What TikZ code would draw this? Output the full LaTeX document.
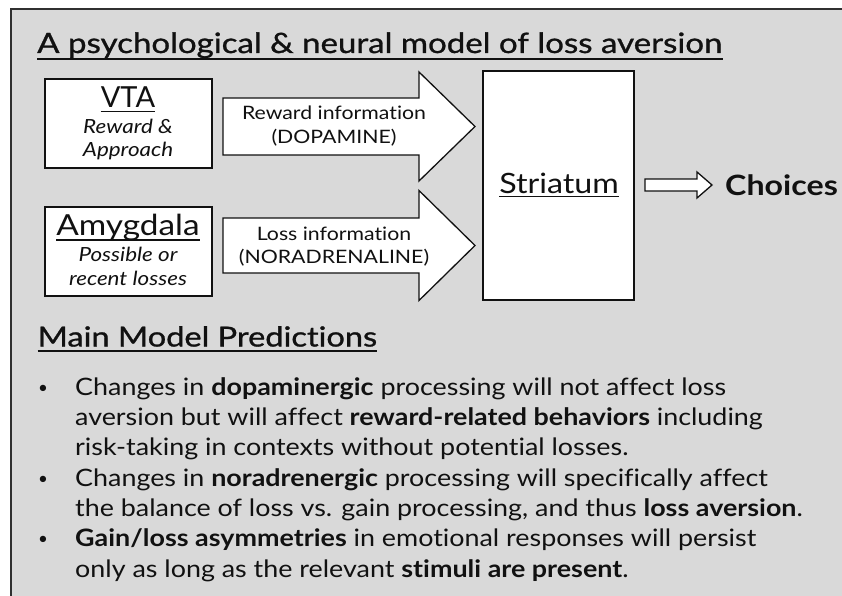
\documentclass[tikz,border=0pt]{standalone}
\usepackage{fontspec}
\setmainfont{Lato}[FakeStretch=1.15, Ligatures=CommonOff]
\newfontfamily\bodyfam{Lato}[FakeStretch=1.12, Ligatures=CommonOff]
\newfontfamily\headfam{Lato}[FakeStretch=1.18, FakeBold=1, Ligatures=CommonOff]
\newfontfamily\plainfam{Lato}[Ligatures=CommonOff]
\usetikzlibrary{calc}
\definecolor{bggray}{HTML}{D9D9D9}
\definecolor{framegray}{HTML}{303030}
\definecolor{inkblack}{HTML}{111111}
\newcommand\blockarr[6]{%
  \draw[arrowbox] (#1,#4-#5) -- (#2,#4-#5) -- (#2,#4-#6) -- (#3,#4) -- (#2,#4+#6) -- (#2,#4+#5) -- (#1,#4+#5) -- cycle;}
\tikzset{
  boxstyle/.style={draw=inkblack, fill=white, line width=1.3pt, inner sep=0pt},
  arrowbox/.style={draw=inkblack, fill=white, line width=1.3pt, line join=miter},
  txt/.style={inner sep=0pt, text=inkblack},
  uline/.style={line width=1.3pt, draw=inkblack},
  bodyfont/.style={font=\bodyfam\fontsize{24}{30}\selectfont},
  itfont/.style={font=\fontsize{19.5}{23}\selectfont\itshape},
  arrfont/.style={font=\fontsize{18.5}{22}\selectfont},
}
\begin{document}
\begin{tikzpicture}[x=1pt,y=-1pt]
\useasboundingbox (0,0) rectangle (842,596);
\clip (0,0) rectangle (842,596);
\fill[white] (0,0) rectangle (842,596);
\filldraw[fill=bggray, draw=framegray, line width=2pt] (11,9) rectangle (860,620);

% title
\node[txt, anchor=base west, font=\headfam\fontsize{28}{34}\selectfont] (title) at (37,53) {A psychological \& neural model of loss aversion};
\draw[line width=2pt, draw=inkblack] ($(title.base west)+(0,6.5)$) -- ($(title.base east)+(0,6.5)$);

% VTA box
\node[boxstyle, minimum width=167pt, minimum height=89pt] (vta) at (128.5,123.5) {};
\node[txt, anchor=base, font=\plainfam\fontsize{29}{35}\selectfont] (vtat) at (128,108) {VTA};
\draw[uline] ($(vtat.base west)+(0,3.5)$) -- ($(vtat.base east)+(0,3.5)$);
\node[txt, anchor=base, itfont] (vta1) at (128,134) {Reward \&};
\node[txt, anchor=base, itfont] (vta2) at (128,157) {Approach};

% Amygdala box
\node[boxstyle, minimum width=167pt, minimum height=89pt] (amy) at (128.5,251.5) {};
\node[txt, anchor=base, font=\fontsize{29}{35}\selectfont] (amyt) at (128,235) {Amygdala};
\draw[uline] ($(amyt.base west)+(0,5)$) -- ($(amyt.base east)+(0,5)$);
\node[txt, anchor=base, itfont] (amy1) at (128,261) {Possible or};
\node[txt, anchor=base, itfont] (amy2) at (128,285) {recent losses};

% Striatum box
\node[boxstyle, minimum width=151pt, minimum height=229pt] (str) at (558.5,185.5) {};
\node[txt, anchor=base, font=\fontsize{28}{34}\selectfont] (strt) at (559,193) {Striatum};
\draw[uline] ($(strt.base west)+(0,3.5)$) -- ($(strt.base east)+(0,3.5)$);

% block arrows
\blockarr{223}{419}{475}{126.5}{28.5}{54.5}
\node[txt, anchor=base, arrfont] (a1a) at (334,120) {Reward information};
\node[txt, anchor=base, arrfont] (a1b) at (334,143.5) {(DOPAMINE)};
\blockarr{223}{419}{475}{245.5}{27.5}{55}
\node[txt, anchor=base, arrfont] (a2a) at (334,240) {Loss information};
\node[txt, anchor=base, arrfont] (a2b) at (334,263.5) {(NORADRENALINE)};
\blockarr{645}{697}{712}{185}{6}{13}
\node[txt, anchor=base west, font=\fontsize{28}{34}\selectfont\bfseries] (choices) at (725,195) {Choices};

% predictions
\node[txt, anchor=base west, font=\headfam\fontsize{27.6}{32}\selectfont] (mmp) at (37.5,346.5) {Main Model Predictions};
\draw[line width=2pt, draw=inkblack] ($(mmp.base west)+(0,4)$) -- ($(mmp.base east)+(0,4)$);

\node[txt, anchor=base, font=\plainfam\fontsize{17}{20}\selectfont] (b1) at (43,393) {•};
\node[txt, anchor=base, font=\plainfam\fontsize{17}{20}\selectfont] (b2) at (43,484) {•};
\node[txt, anchor=base, font=\plainfam\fontsize{17}{20}\selectfont] (b3) at (43,544.7) {•};
\node[txt, anchor=base west, bodyfont] (l1) at (75,395) {Changes in \textbf{dopaminergic} processing will not affect loss};
\node[txt, anchor=base west, bodyfont] (l2) at (75,425.3) {aversion but will affect \textbf{reward-related behaviors} including};
\node[txt, anchor=base west, bodyfont] (l3) at (75,455.7) {risk-taking in contexts without potential losses.};
\node[txt, anchor=base west, bodyfont] (l4) at (75,486) {Changes in \textbf{noradrenergic} processing will specifically affect};
\node[txt, anchor=base west, bodyfont] (l5) at (75,516.3) {the balance of loss vs. gain processing, and thus \textbf{loss aversion}.};
\node[txt, anchor=base west, bodyfont] (l6) at (75,546.7) {\textbf{Gain/loss asymmetries} in emotional responses will persist};
\node[txt, anchor=base west, bodyfont] (l7) at (75,577) {only as long as the relevant \textbf{stimuli are present}.};
\end{tikzpicture}
\end{document}
